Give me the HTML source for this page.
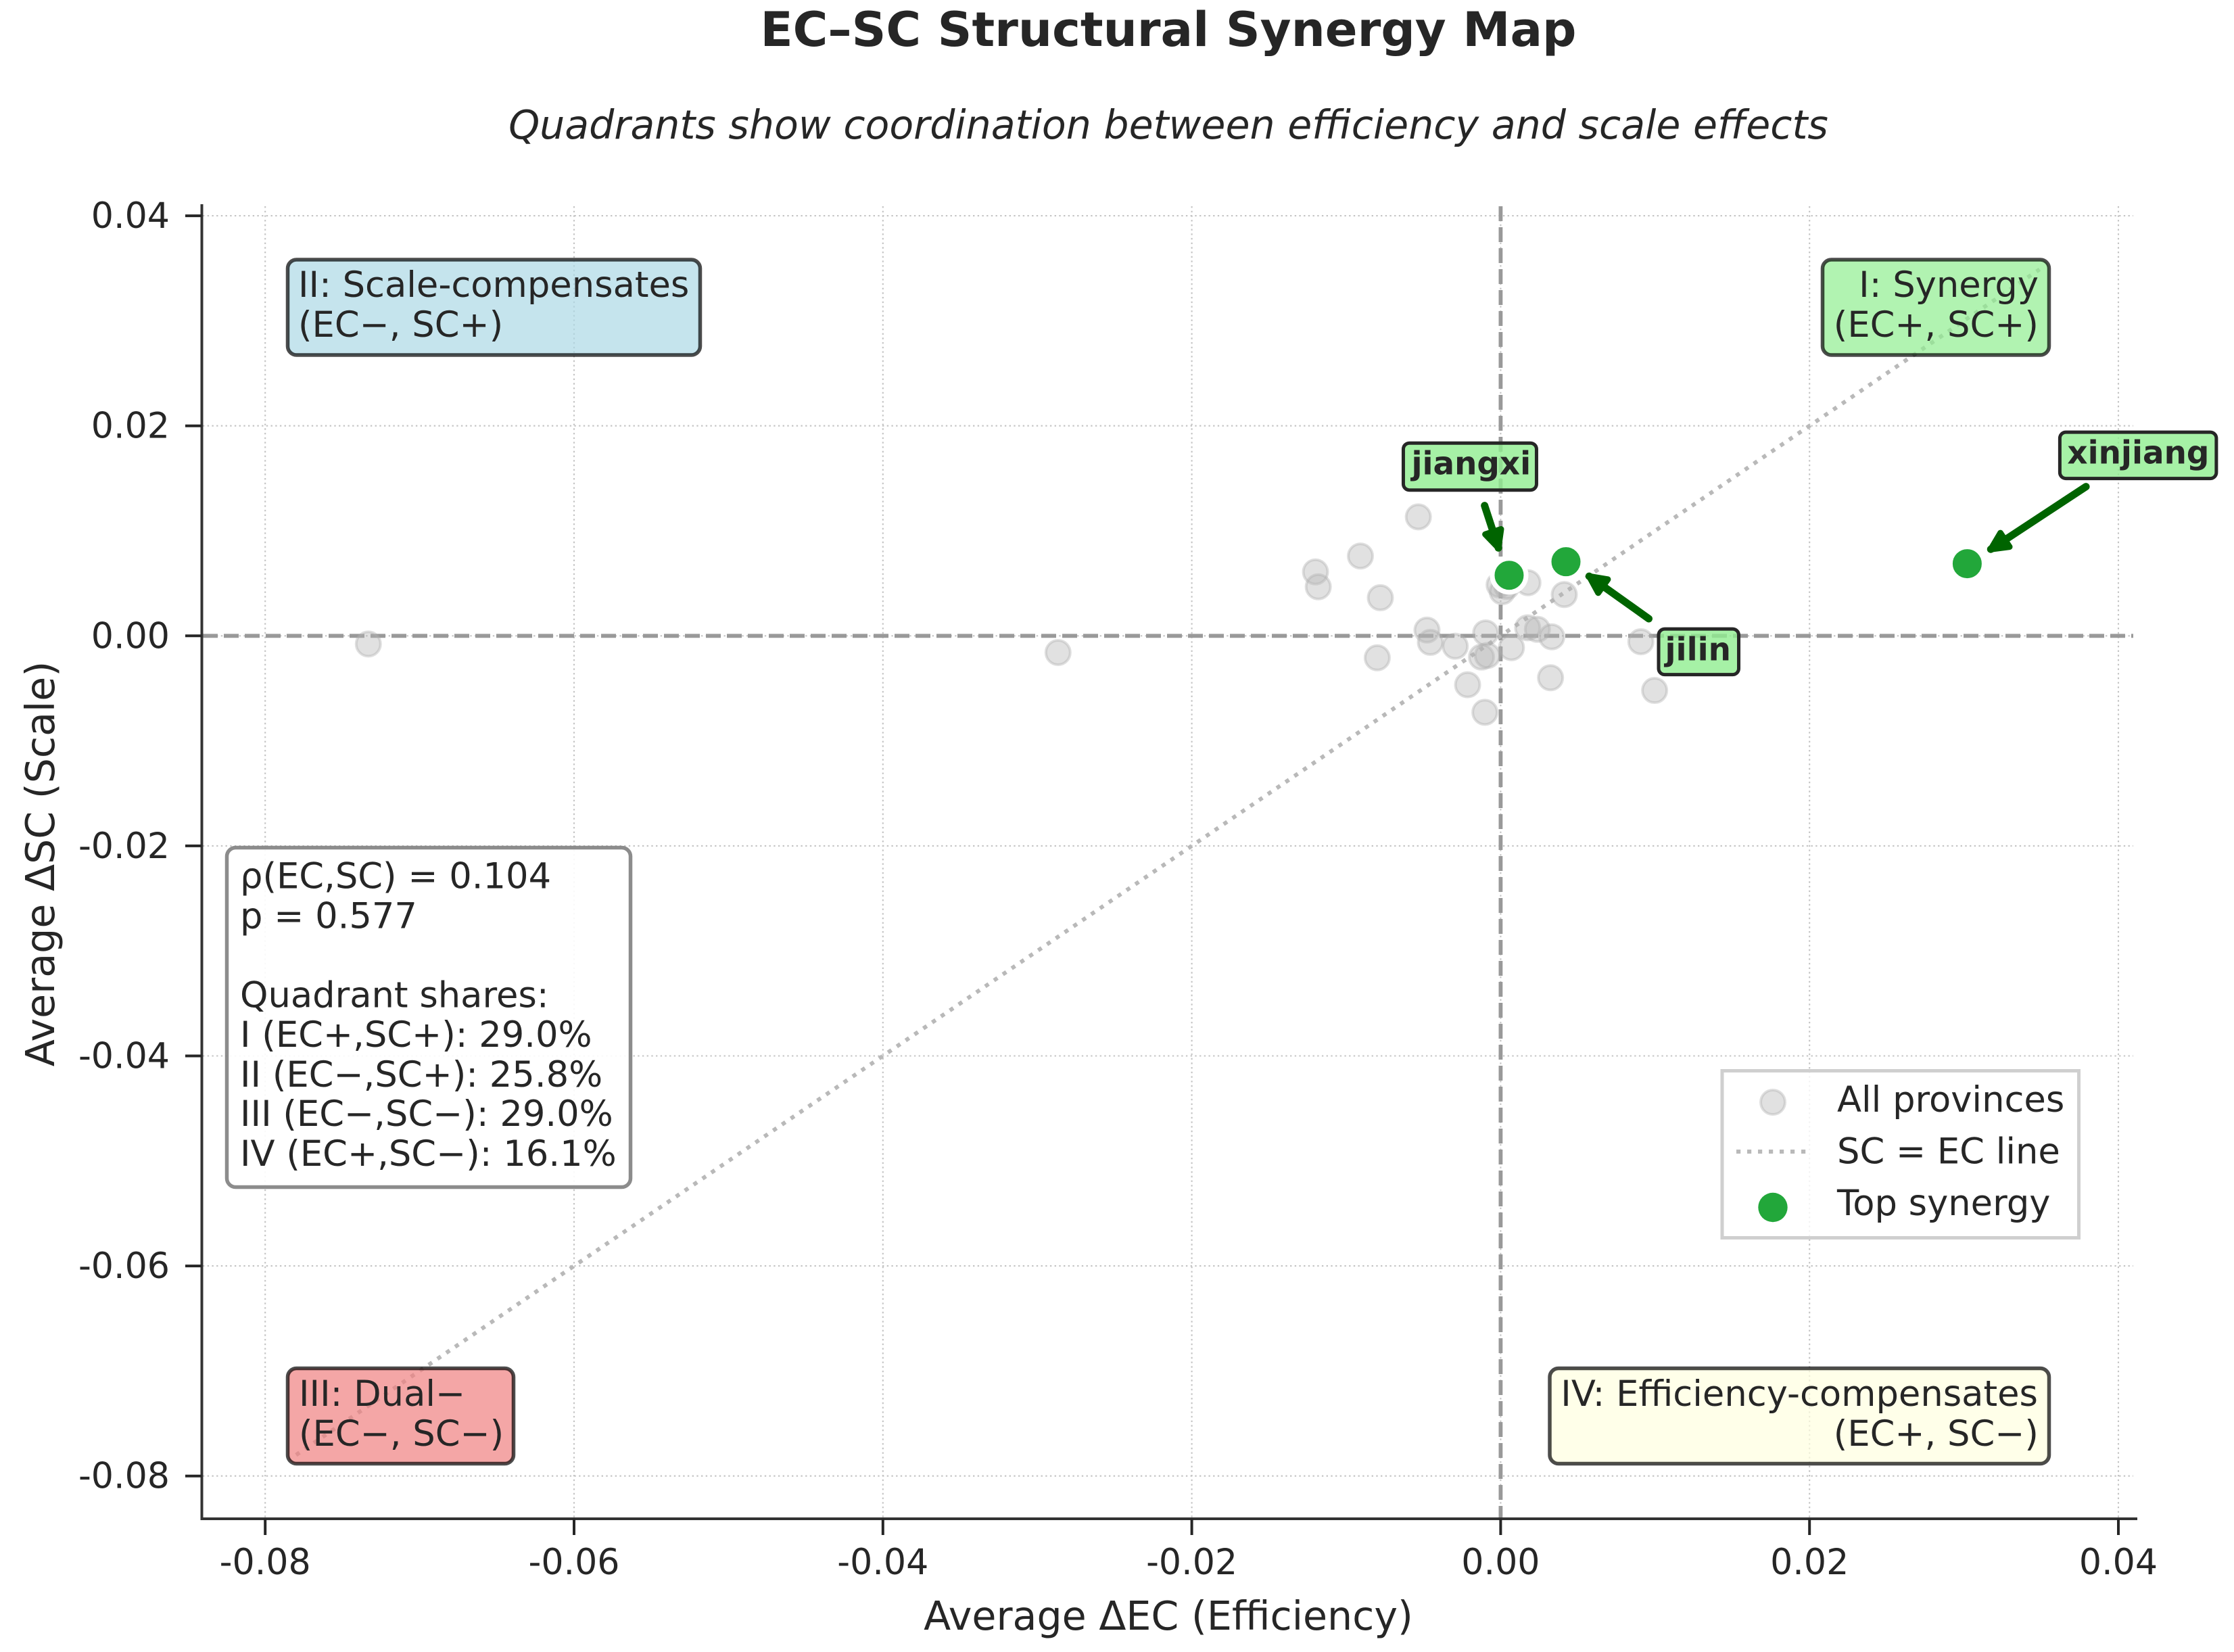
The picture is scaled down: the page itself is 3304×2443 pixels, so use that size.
<!DOCTYPE html>
<html lang="en">
<head>
<meta charset="utf-8">
<title>EC–SC Structural Synergy Map</title>
<style>
html,body{margin:0;padding:0;background:#fff;}
svg{display:block;}
text{font-family:"DejaVu Sans","Liberation Sans",sans-serif;fill:#262626;}
.box-text{font-size:52.7px;}
.tick-label{font-size:52.2px;}
.top-label{font-size:46.8px;font-weight:700;}
</style>
</head>
<body>
<svg id="chart" xmlns="http://www.w3.org/2000/svg" width="3304" height="2443" viewBox="0 0 3304 2443">
  <rect x="0" y="0" width="3304" height="2443" fill="#ffffff"/>
  <text x="1728" y="68" text-anchor="middle" font-size="70.5" font-weight="700">EC–SC Structural Synergy Map</text>
  <text x="1728" y="205" text-anchor="middle" font-size="58.55" font-style="italic">Quadrants show coordination between efficiency and scale effects</text>
  <g id="grid-layer"></g>
  <g id="ref-layer"></g>
  <g id="axis-layer"></g>
  <text x="1728" y="2410" text-anchor="middle" font-size="58.6">Average ΔEC (Efficiency)</text>
  <text x="80" y="1277.5" text-anchor="middle" font-size="58.6" transform="rotate(-90 80 1277.5)">Average ΔSC (Scale)</text>
  <g id="all-points-layer"></g>
  <g id="top-points-layer"></g>

  <g>
    <rect x="425.5" y="384" width="610" height="141" rx="13" fill="#add8e6" fill-opacity="0.7" stroke="#000" stroke-opacity="0.7" stroke-width="5.5"/>
    <text class="box-text" x="441" y="439">II: Scale-compensates</text>
    <text class="box-text" x="441" y="498">(EC−, SC+)</text>
  </g>
  <g>
    <rect x="2695.5" y="384" width="335" height="141" rx="13" fill="#90ee90" fill-opacity="0.7" stroke="#000" stroke-opacity="0.7" stroke-width="5.5"/>
    <text class="box-text" x="3015" y="439" text-anchor="end">I: Synergy</text>
    <text class="box-text" x="3015" y="498" text-anchor="end">(EC+, SC+)</text>
  </g>
  <g>
    <rect x="425.5" y="2023.5" width="334" height="141" rx="13" fill="#f08080" fill-opacity="0.7" stroke="#000" stroke-opacity="0.7" stroke-width="5.5"/>
    <text class="box-text" x="442" y="2079">III: Dual−</text>
    <text class="box-text" x="442" y="2138">(EC−, SC−)</text>
  </g>
  <g>
    <rect x="2292" y="2023.5" width="738.5" height="141" rx="13" fill="#ffffe0" fill-opacity="0.7" stroke="#000" stroke-opacity="0.7" stroke-width="5.5"/>
    <text class="box-text" x="3014" y="2079" text-anchor="end" font-size="53">IV: Efficiency-compensates</text>
    <text class="box-text" x="3015" y="2138" text-anchor="end">(EC+, SC−)</text>
  </g>

  <g>
    <rect x="335.5" y="1253.5" width="597" height="502" rx="13" fill="#ffffff" fill-opacity="0.9" stroke="#808080" stroke-opacity="0.9" stroke-width="5.5"/>
    <text class="box-text" x="355" y="1313.5">ρ(EC,SC) = 0.104</text>
    <text class="box-text" x="355" y="1372.5">p = 0.577</text>
    <text class="box-text" x="355" y="1489.5">Quadrant shares:</text>
    <text class="box-text" x="355" y="1548">I (EC+,SC+): 29.0%</text>
    <text class="box-text" x="355" y="1607">II (EC−,SC+): 25.8%</text>
    <text class="box-text" x="355" y="1665">III (EC−,SC−): 29.0%</text>
    <text class="box-text" x="355" y="1724">IV (EC+,SC−): 16.1%</text>
  </g>

  <g>
    <rect x="2547" y="1583.5" width="527.5" height="247" fill="#ffffff" fill-opacity="0.8" stroke="#cfcfcf" stroke-width="5"/>
    <circle cx="2622" cy="1630" r="18" fill="#b4b4b4" fill-opacity="0.4" stroke="#b0b0b0" stroke-opacity="0.4" stroke-width="4"/>
    <text class="box-text" x="2717" y="1644">All provinces</text>
    <line x1="2568" y1="1703" x2="2672" y2="1703" stroke="#b9b9b9" stroke-width="6" stroke-dasharray="6.2 9.8"/>
    <text class="box-text" x="2717" y="1720.5">SC = EC line</text>
    <circle cx="2622" cy="1785.5" r="21.7" fill="#22a73a"/>
    <text class="box-text" x="2717" y="1797">Top synergy</text>
  </g>

  <g id="annotation-layer"></g>
</svg>

<script>
// Chart data
const provinceEC = [-0.07332,-0.02866,-0.00533,-0.00908,-0.01199,-0.01181,-0.00779,-0.0001,0.0001,0.0004,0.00177,0.00412,-0.00477,-0.00455,-0.00294,-0.00097,0.0007,0.00175,0.00238,0.00331,0.00908,0.00997,-0.00799,-0.00124,-0.00086,-0.00214,0.00323,-0.00102,0.00055,0.00423,0.03021];
const provinceSC = [-0.00078,-0.00159,0.01133,0.0076,0.00609,0.00467,0.00363,0.00485,0.0042,0.0047,0.00506,0.00393,0.00055,-0.00062,-0.00099,0.00028,-0.00112,0.00077,0.00062,-0.00009,-0.00056,-0.0052,-0.00209,-0.00202,-0.00187,-0.00466,-0.00399,-0.00728,0.00577,0.00706,0.00687];
const topNames = ["jiangxi","jilin","xinjiang"];
const topEC = [0.00055,0.00423,0.03021];
const topSC = [0.00577,0.00706,0.00687];
const xTicks = [-0.08,-0.06,-0.04,-0.02,0,0.02,0.04];
const yTicks = [-0.08,-0.06,-0.04,-0.02,0,0.02,0.04];
const xTickLabels = ["-0.08","-0.06","-0.04","-0.02","0.00","0.02","0.04"];
const yTickLabels = ["-0.08","-0.06","-0.04","-0.02","0.00","0.02","0.04"];
const diagonalRange = [-0.078,0.0349];

// Axis functions
const X0 = 2219.4, XSCALE = 22840;
const Y0 = 940.3, YSCALE = 15530;
function xPos(v){ return X0 + v * XSCALE; }
function yPos(v){ return Y0 - v * YSCALE; }

const SVGNS = "http://www.w3.org/2000/svg";
function mk(parent, tag, attrs, text){
  const el = document.createElementNS(SVGNS, tag);
  for (const k in attrs) el.setAttribute(k, attrs[k]);
  if (text !== undefined) el.textContent = text;
  parent.appendChild(el);
  return el;
}

const gridLayer = document.getElementById("grid-layer");
const refLayer = document.getElementById("ref-layer");
const axisLayer = document.getElementById("axis-layer");
const allLayer = document.getElementById("all-points-layer");
const topLayer = document.getElementById("top-points-layer");
const annLayer = document.getElementById("annotation-layer");

const GRID_LEFT = 300, GRID_RIGHT = 3155, GRID_TOP = 305, GRID_BOTTOM = 2246;
const gridStyle = {stroke:"#c4c4c4","stroke-width":2.1,"stroke-dasharray":"2.4 4.3"};

xTicks.forEach(function(v){
  const el = mk(gridLayer,"line",Object.assign({x1:xPos(v),x2:xPos(v),y1:GRID_TOP,y2:GRID_BOTTOM},gridStyle));
  
  
});
yTicks.forEach(function(v){
  const el = mk(gridLayer,"line",Object.assign({x1:GRID_LEFT,x2:GRID_RIGHT,y1:yPos(v),y2:yPos(v)},gridStyle));
  
  
});

// Reference lines
const zeroStyle = {stroke:"#999999","stroke-width":5.8,"stroke-dasharray":"22 9"};
const hZero = mk(refLayer,"line",Object.assign({x1:GRID_LEFT,x2:GRID_RIGHT,y1:yPos(0),y2:yPos(0)},zeroStyle));


const vZero = mk(refLayer,"line",Object.assign({x1:xPos(0),x2:xPos(0),y1:GRID_TOP,y2:GRID_BOTTOM},zeroStyle));


const diag = mk(refLayer,"line",{x1:xPos(diagonalRange[0]),y1:yPos(diagonalRange[0]),x2:xPos(diagonalRange[1]),y2:yPos(diagonalRange[1]),stroke:"#b9b9b9","stroke-width":6,"stroke-dasharray":"6.2 9.6"});



// Axes
const leftSpine = mk(axisLayer,"line",{x1:298.5,x2:298.5,y1:302,y2:2248,stroke:"#333333","stroke-width":4});


const bottomSpine = mk(axisLayer,"line",{x1:296.5,x2:3161,y1:2246,y2:2246,stroke:"#333333","stroke-width":4});



xTicks.forEach(function(v,i){
  const t = mk(axisLayer,"line",{x1:xPos(v),x2:xPos(v),y1:2246,y2:2270,stroke:"#262626","stroke-width":4});
  
  
  const l = mk(axisLayer,"text",{x:xPos(v),y:2328,"text-anchor":"middle","class":"tick-label"},xTickLabels[i]);
  
  
});
yTicks.forEach(function(v,i){
  const t = mk(axisLayer,"line",{x1:274,x2:298.5,y1:yPos(v),y2:yPos(v),stroke:"#262626","stroke-width":4});
  
  
  const l = mk(axisLayer,"text",{x:251,y:yPos(v)+18,"text-anchor":"end","class":"tick-label"},yTickLabels[i]);
  
  
});

// All provinces
provinceEC.forEach(function(v,i){
  const c = mk(allLayer,"circle",{cx:xPos(v),cy:yPos(provinceSC[i]),r:18,fill:"#b4b4b4","fill-opacity":0.4,stroke:"#b0b0b0","stroke-opacity":0.4,"stroke-width":4});
  
  
});

// Annotation layout is presentation only: pixel offsets from each highlighted point
const annotationLayout = {
  jiangxi:  {box:[-156.5,-195.5,197,69.5], text:[-144.5,-149], from:[-36.3,-103], to:[-14.3,-35.7]},
  jilin:    {box:[137,99.5,118.5,67.5],    text:[146.5,146],   from:[122.5,84.3], to:[30.2,18.6]},
  xinjiang: {box:[137,-194.5,231.5,68.5],  text:[148,-148],    from:[175.7,-114], to:[30.7,-18.6]}
};

topNames.forEach(function(name,i){
  const px = xPos(topEC[i]), py = yPos(topSC[i]);
  const c = mk(topLayer,"circle",{cx:px,cy:py,r:25,fill:"#22a73a",stroke:"#ffffff","stroke-width":7});
  
  

  const L = annotationLayout[name];
  const g = mk(annLayer,"g",{});
  
  

  const fx = px + L.from[0], fy = py + L.from[1], tx = px + L.to[0], ty = py + L.to[1];
  const len = Math.hypot(fx - tx, fy - ty), ux = (fx - tx) / len, uy = (fy - ty) / len;
  const ix = tx + ux * 5, iy = ty + uy * 5;
  const ang = 26 * Math.PI / 180, w = 28;
  const w1x = ix + w * (ux * Math.cos(ang) - uy * Math.sin(ang));
  const w1y = iy + w * (ux * Math.sin(ang) + uy * Math.cos(ang));
  const w2x = ix + w * (ux * Math.cos(ang) + uy * Math.sin(ang));
  const w2y = iy + w * (-ux * Math.sin(ang) + uy * Math.cos(ang));
  const shaft = mk(g,"line",{x1:fx,y1:fy,x2:ix,y2:iy,stroke:"#006400","stroke-width":11,"stroke-linecap":"round"});
  
  
  const head = mk(g,"polygon",{points:[ix,iy,w1x,w1y,w2x,w2y].join(" "),fill:"#006400",stroke:"#006400","stroke-width":9,"stroke-linejoin":"round"});
  
  

  const r = mk(g,"rect",{x:px+L.box[0],y:py+L.box[1],width:L.box[2],height:L.box[3],rx:9,fill:"#90ee90","fill-opacity":0.8,stroke:"#262626","stroke-width":5});
  
  
  const t = mk(g,"text",{x:px+L.text[0],y:py+L.text[1],"class":"top-label"},name);
  
  
});
</script>
</body>
</html>
